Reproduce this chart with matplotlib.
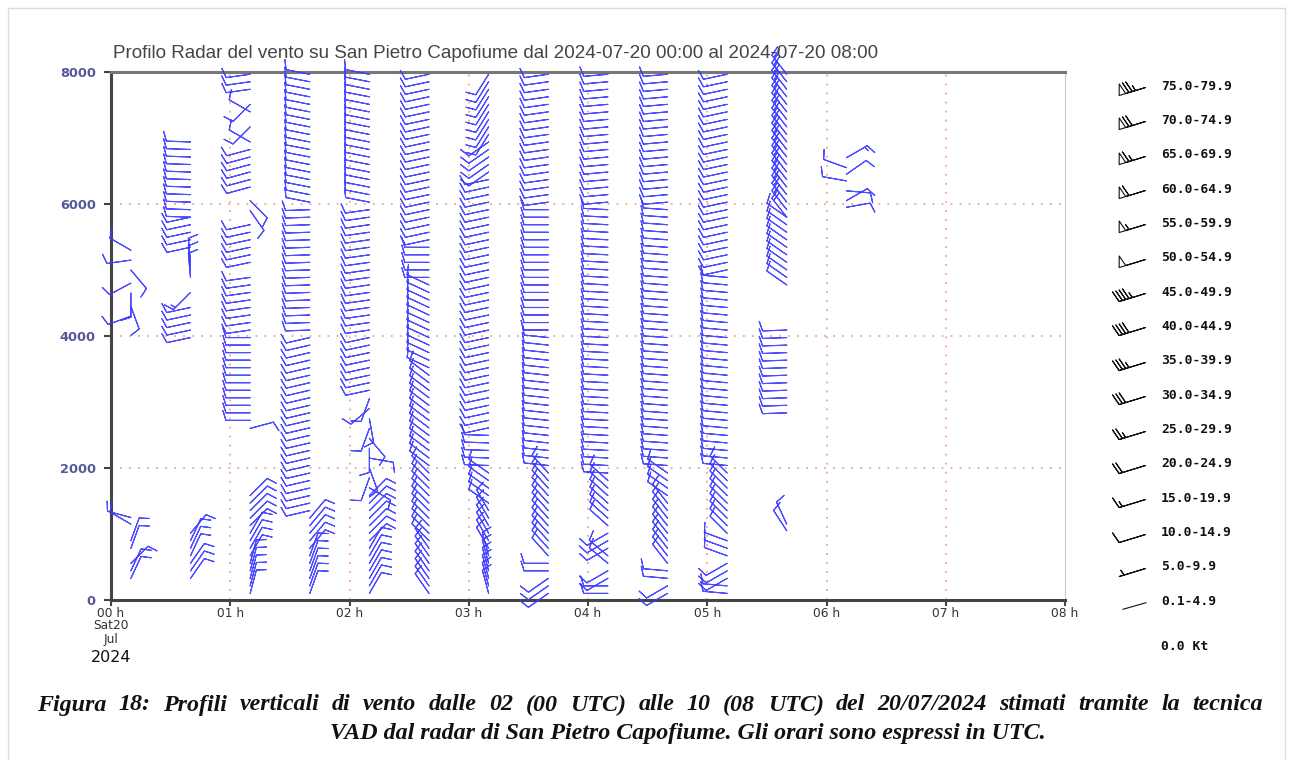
import numpy as np
import matplotlib
matplotlib.use("Agg")
import matplotlib.pyplot as plt
from matplotlib.patches import Rectangle

# ---------------- data ----------------
title = "Profilo Radar del vento su San Pietro Capofiume dal 2024-07-20 00:00 al 2024-07-20 08:00"
caption1 = "Figura 18: Profili verticali di vento dalle 02 (00 UTC) alle 10 (08 UTC) del 20/07/2024 stimati tramite la tecnica"
caption2 = "VAD dal radar di San Pietro Capofiume. Gli orari sono espressi in UTC."

hour_ticks = [0, 1, 2, 3, 4, 5, 6, 7, 8]
hour_labels = ["00 h", "01 h", "02 h", "03 h", "04 h", "05 h", "06 h", "07 h", "08 h"]
height_ticks = [0, 2000, 4000, 6000, 8000]

levels = np.arange(100, 8001, 114)   # VAD height levels (m)

# station times (hours UTC)
times = [10/60, 40/60, 1+10/60, 1+40/60, 2+10/60, 2+40/60, 3+10/60,
         3+40/60, 4+10/60, 4+40/60, 5+10/60, 5+40/60, 6+10/60]

# per-profile segments: (height from, height to, direction deg, speed kt)
p0010 = [(300, 450, 25, 12), (500, 650, 45, 12), (700, 1000, 20, 12),
         (1150, 1150, 300, 12), (1250, 1250, 285, 12),
         (4300, 4300, 250, 12), (4450, 4450, 160, 12), (4650, 4650, 180, 12),
         (4800, 4800, 242, 12), (5000, 5000, 140, 12), (5150, 5150, 262, 12),
         (5300, 5300, 300, 12)]
p0040 = [(300, 600, 35, 12), (600, 900, 25, 12), (900, 1100, 40, 12),
         (3900, 4500, 258, 12), (4550, 4700, 225, 17), (4800, 5200, 355, 12),
         (5300, 5800, 258, 12), (5800, 7000, 272, 12)]
p0110 = [(100, 600, 15, 12), (600, 1100, 30, 12), (1100, 1600, 45, 12),
         (2600, 2600, 75, 12), (2700, 4000, 270, 12), (4000, 5000, 262, 12),
         (5050, 5750, 258, 12), (5900, 5900, 145, 12), (6050, 6050, 135, 12),
         (6150, 6850, 255, 12), (6900, 7000, 300, 12), (7100, 7200, 225, 12),
         (7300, 7400, 300, 12), (7500, 7600, 225, 12), (7650, 8000, 262, 12)]
p0140 = [(100, 700, 20, 12), (700, 1300, 40, 12), (1300, 4000, 257, 12),
         (4000, 6000, 268, 12), (6000, 8000, 281, 12)]
p0210 = [(100, 800, 30, 12), (800, 1600, 45, 12),
         (1700, 1700, 120, 12), (1850, 1850, 200, 12), (2000, 2000, 160, 12),
         (2150, 2150, 100, 12), (2300, 2300, 180, 12), (2450, 2450, 140, 12),
         (2600, 2600, 200, 12), (2750, 2750, 170, 12), (2900, 2900, 230, 12),
         (3050, 3050, 200, 12), (3100, 4000, 258, 12), (4000, 6000, 262, 12),
         (6000, 8000, 281, 12)]
p0240 = [(100, 800, 325, 12), (800, 2000, 315, 12), (2000, 3500, 307, 12),
         (3500, 4850, 295, 12), (4850, 5450, 270, 12), (5450, 8000, 258, 12)]
p0310 = [(100, 700, 345, 12), (700, 1400, 330, 12), (1400, 2000, 305, 12),
         (2000, 2500, 272, 12), (2500, 6400, 258, 12), (6400, 7000, 235, 12),
         (7000, 8000, 212, 12)]
p0340 = [(100, 350, 235, 12), (350, 600, 270, 12), (600, 2000, 318, 12),
         (2000, 4000, 276, 12), (4000, 6000, 270, 12), (6000, 8000, 262, 12)]
p0410 = [(100, 300, 270, 12), (300, 500, 240, 12), (500, 700, 310, 12),
         (700, 1100, 240, 12), (1100, 1900, 312, 12), (1900, 6000, 273, 12),
         (6000, 8000, 265, 12)]
p0440 = [(100, 250, 240, 12), (250, 450, 275, 12), (450, 1500, 322, 12),
         (1500, 2000, 305, 12), (2000, 6000, 274, 12), (6000, 8000, 265, 12)]
p0510 = [(100, 300, 275, 12), (300, 600, 240, 12), (600, 1000, 290, 12),
         (1000, 2000, 315, 12), (2000, 5000, 275, 12), (5000, 8000, 258, 12)]
p0540 = [(1050, 1050, 327, 12), (1150, 1150, 335, 12), (2750, 4200, 268, 12),
         (4750, 5800, 305, 12), (5800, 8000, 322, 22)]
p0610 = [(5950, 5950, 80, 12), (6050, 6050, 60, 12), (6200, 6200, 95, 12),
         (6350, 6350, 280, 12), (6450, 6450, 55, 12), (6550, 6550, 290, 12),
         (6700, 6700, 60, 17)]
profiles = [p0010, p0040, p0110, p0140, p0210, p0240, p0310,
            p0340, p0410, p0440, p0510, p0540, p0610]

legend_labels = ["75.0-79.9", "70.0-74.9", "65.0-69.9", "60.0-64.9", "55.0-59.9",
                 "50.0-54.9", "45.0-49.9", "40.0-44.9", "35.0-39.9", "30.0-34.9",
                 "25.0-29.9", "20.0-24.9", "15.0-19.9", "10.0-14.9", "5.0-9.9",
                 "0.1-4.9"]
legend_speeds = [77, 72, 67, 62, 57, 52, 47, 42, 37, 32, 27, 22, 17, 12, 7, 2]


def uv(sp, d):
    r = np.radians(d)
    return -sp * np.sin(r), -sp * np.cos(r)


# ---------------- figure ----------------
W, H = 1294, 760
fig = plt.figure(figsize=(W / 100, H / 100), dpi=100)
fig.patch.set_facecolor("white")

bg = fig.add_axes([0, 0, 1, 1])
bg.set_xlim(0, W); bg.set_ylim(H, 0); bg.axis("off")
bg.add_patch(Rectangle((8, 8), 1277, 770, fill=False, edgecolor="#dcdcdc", lw=1))

ax = fig.add_axes([111 / W, 1 - 600 / H, (1065 - 111) / W, (600 - 72) / H])
ax.set_xlim(0, 8)
ax.set_ylim(0, 8000)

grid_col = "#f2a68c"
for h in hour_ticks[1:-1]:
    ax.axvline(h, color=grid_col, lw=1.3, ls=(0, (1, 4)), zorder=1)
for z in height_ticks[1:-1]:
    ax.axhline(z, color=grid_col, lw=1.3, ls=(0, (1, 4)), zorder=1)

for s in ["left", "bottom"]:
    ax.spines[s].set_color("#444444"); ax.spines[s].set_linewidth(2.2)
ax.spines["top"].set_color("#777777"); ax.spines["top"].set_linewidth(2.2)
ax.spines["right"].set_color("#cccccc"); ax.spines["right"].set_linewidth(0.8)

ax.set_yticks(height_ticks)
ax.set_yticklabels([str(v) for v in height_ticks], color="#56569a",
                   fontsize=9.3, fontweight="bold", family="DejaVu Sans")
ax.set_xticks(hour_ticks)
ax.set_xticklabels(hour_labels, color="#333333", fontsize=8.8, family="DejaVu Sans")
ax.tick_params(axis="y", direction="out", length=5, width=1.5, color="#444444", pad=6)
ax.tick_params(axis="x", direction="out", length=4, width=1.5, color="#444444", pad=1)
ax.text(0, -0.036, "Sat20\nJul", transform=ax.get_xaxis_transform(), ha="center",
        va="top", fontsize=8.8, color="#333333", linespacing=1.05, family="DejaVu Sans")
ax.text(0, -0.095, "2024", transform=ax.get_xaxis_transform(), ha="center",
        va="top", fontsize=11.5, color="#111111", family="DejaVu Sans")

# barbs
xs, ys, us, vs = [], [], [], []
for t, prof in zip(times, profiles):
    for lo, hi, d, sp in prof:
        sel = levels[(levels >= lo) & (levels <= hi)]
        if len(sel) == 0:
            sel = [lo]
        for h in sel:
            u, v = uv(sp, d)
            xs.append(t); ys.append(h); us.append(u); vs.append(v)
ax.barbs(xs, ys, us, vs, length=5.9, pivot="tip", barbcolor="#3b3bff",
         flagcolor="#3b3bff", linewidth=0.8, alpha=0.9, clip_on=False, zorder=3)

# title
fig.text(113 / W, 1 - 53 / H, title, family="Liberation Sans", fontsize=13.6,
         color="#444444", va="center", ha="left")

# legend
ly0, ldy = 86, 34.35
for i, (lab, sp) in enumerate(zip(legend_labels, legend_speeds)):
    y = ly0 + i * ldy
    bg.text(1161, y, lab, family="DejaVu Sans Mono", fontweight="bold",
            fontsize=9.4, color="#111111", va="center", ha="left")
    if sp >= 5:
        u, v = uv(sp, 253)
        bg.barbs([1145], [y + 1], [u], [v], length=6.3, pivot="tip",
                 barbcolor="#111111", flagcolor="white", linewidth=0.8)
    else:
        bg.plot([1123, 1146], [y + 8, y + 1.5], color="#111111", lw=0.8)
bg.text(1161, 646, "0.0 Kt", family="DejaVu Sans Mono", fontweight="bold",
        fontsize=9.4, color="#111111", va="center", ha="left")

# caption (first line justified to the page width)
cap_kw = dict(family="Liberation Serif", fontweight="bold", style="italic",
              fontsize=17.3, va="center", color="#111111")
renderer = fig.canvas.get_renderer()
words = caption1.split(" ")
tobjs = [bg.text(0, 705, w, ha="left", **cap_kw) for w in words]
widths = [t.get_window_extent(renderer).width for t in tobjs]
x0, x1 = 37, 1263
gap = (x1 - x0 - sum(widths)) / (len(words) - 1)
xpos = x0
for t, w in zip(tobjs, widths):
    t.set_x(xpos)
    xpos += w + gap
bg.text(330, 734, caption2, ha="left", **cap_kw)

fig.savefig("out.png", dpi=100)
